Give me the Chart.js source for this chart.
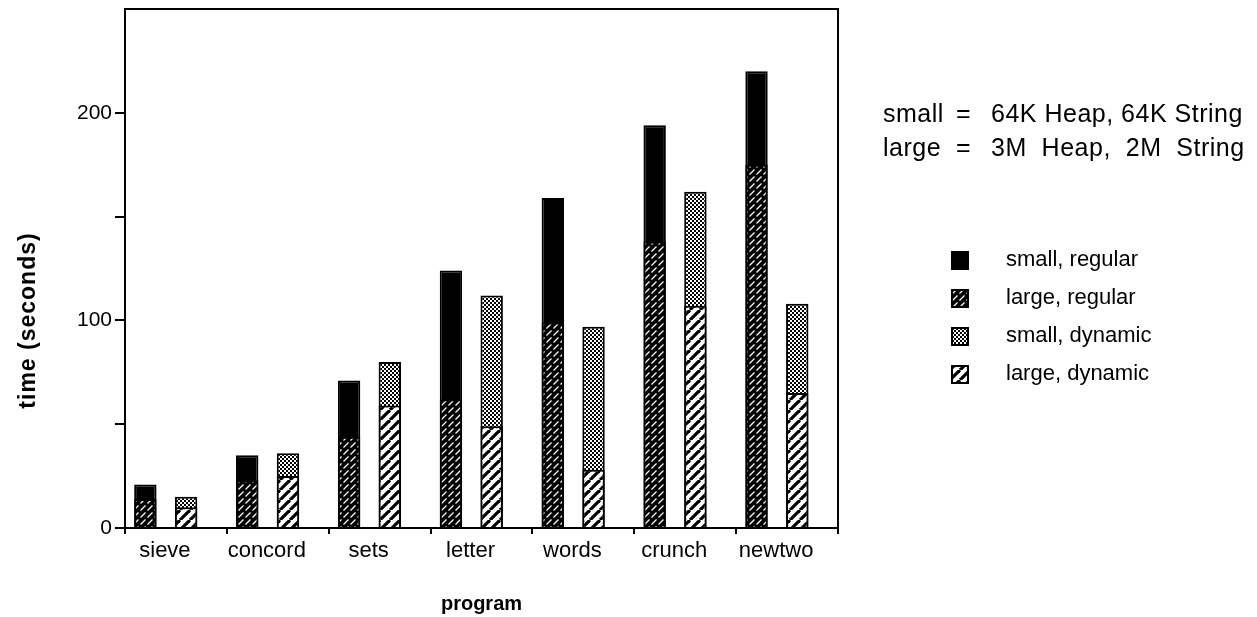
<!DOCTYPE html>
<html>
<head>
<meta charset="utf-8">
<script src="https://cdn.jsdelivr.net/npm/chart.js@4.4.1/dist/chart.umd.min.js"></script>
<style>
  html, body { margin: 0; padding: 0; background: #fff; }
</style>
</head>
<body>
<canvas id="chart" width="1257" height="617"></canvas>
<script>
// values (seconds)
const programs = ['sieve', 'concord', 'sets', 'letter', 'words', 'crunch', 'newtwo'];
const small_regular = [21, 35, 71, 124, 159, 194, 220];
const large_regular = [14, 23, 44, 62, 99, 138, 175];
const small_dynamic = [15, 36, 80, 112, 97, 162, 108];
const large_dynamic = [10, 25, 59, 49, 28, 107, 65];
const y_labels = [0, 100, 200];
const note_small = ['small', '=', '64K Heap, 64K String'];
const note_large = ['large', '=', '3M  Heap,  2M  String'];

const FONT = "'Liberation Sans', Arial, Helvetica, sans-serif";
Chart.defaults.font.family = FONT;
Chart.defaults.color = '#000';

const canvas = document.getElementById('chart');
const ctx = canvas.getContext('2d');

// small repeating tiles for the bar fills
function tile(size, paint) {
  const t = document.createElement('canvas');
  t.width = size;
  t.height = size;
  paint(t.getContext('2d'), size);
  return ctx.createPattern(t, 'repeat');
}

const dark_hatch = tile(7, (g, s) => {
  g.fillStyle = '#000';
  g.fillRect(0, 0, s, s);
  g.strokeStyle = '#fff';
  g.lineWidth = 1.2;
  g.beginPath();
  g.moveTo(0.5, 6.5);
  g.lineTo(5.5, 1.5);
  g.stroke();
});

const light_hatch = tile(10, (g, s) => {
  g.fillStyle = '#fff';
  g.fillRect(0, 0, s, s);
  g.strokeStyle = '#000';
  g.lineWidth = 3.2;
  for (const x0 of [-s, 0, s]) {
    g.beginPath();
    g.moveTo(x0, s);
    g.lineTo(x0 + s, 0);
    g.stroke();
  }
});

const stipple = tile(4, (g, s) => {
  g.fillStyle = '#fff';
  g.fillRect(0, 0, s, s);
  g.fillStyle = '#000';
  g.fillRect(0, 0, 2, 2);
  g.fillRect(2, 2, 2, 2);
});

const bar_style = { borderColor: '#000', borderWidth: 2, categoryPercentage: 0.8, barPercentage: 1.1 };

// frame round the plot, axis title, notes and legend
const extras = {
  id: 'extras',
  afterDatasetsDraw(chart) {
    const { ctx, chartArea: a } = chart;
    ctx.save();
    ctx.strokeStyle = '#000';
    ctx.lineWidth = 2;
    ctx.strokeRect(a.left, a.top, a.right - a.left, a.bottom - a.top);
    ctx.restore();
  },
  afterDraw(chart) {
    const { ctx, chartArea: a } = chart;
    ctx.save();
    ctx.fillStyle = '#000';

    // y title
    ctx.font = 'bold 23px ' + FONT;
    ctx.letterSpacing = '1px';
    ctx.textAlign = 'center';
    ctx.textBaseline = 'middle';
    ctx.translate(29, (a.top + a.bottom) / 2 + 52);
    ctx.rotate(-Math.PI / 2);
    ctx.fillText('time (seconds)', 0, 0);
    ctx.setTransform(1, 0, 0, 1, 0, 0);

    // notes
    ctx.font = '25px ' + FONT;
    ctx.letterSpacing = '0.5px';
    ctx.textAlign = 'left';
    ctx.textBaseline = 'alphabetic';
    const cols = [883, 956, 991];
    [[note_small, 122], [note_large, 156]].forEach(([parts, y]) => {
      parts.forEach((p, i) => ctx.fillText(p, cols[i], y));
    });

    // legend
    ctx.font = '22px ' + FONT;
    ctx.letterSpacing = '0px';
    ctx.textBaseline = 'middle';
    const items = chart.data.datasets.filter(d => d.label);
    items.forEach((d, i) => {
      const top = 251 + i * 38;
      ctx.fillStyle = d.backgroundColor;
      ctx.fillRect(951, top, 18, 19);
      ctx.strokeStyle = '#000';
      ctx.lineWidth = 2;
      ctx.strokeRect(952, top + 1, 16, 17);
      ctx.fillStyle = '#000';
      ctx.fillText(d.label, 1006, top + 9);
    });
    ctx.restore();
  }
};

new Chart(canvas, {
  type: 'bar',
  data: {
    labels: programs,
    datasets: [
      { label: 'small, regular', data: small_regular, backgroundColor: '#000', stack: 'regular', order: 1, ...bar_style },
      { label: 'large, regular', data: large_regular, backgroundColor: dark_hatch, stack: 'regular', order: 0, ...bar_style },
      { label: '', data: [], stack: 'gap1', order: 0, ...bar_style },
      { label: 'small, dynamic', data: small_dynamic, backgroundColor: stipple, stack: 'dynamic', order: 1, ...bar_style },
      { label: 'large, dynamic', data: large_dynamic, backgroundColor: light_hatch, stack: 'dynamic', order: 0, ...bar_style },
      { label: '', data: [], stack: 'gap2', order: 0, ...bar_style }
    ]
  },
  options: {
    responsive: false,
    animation: false,
    devicePixelRatio: 1,
    layout: { padding: { top: 9, right: 419, left: 0, bottom: 0 } },
    plugins: {
      legend: { display: false },
      tooltip: { enabled: false }
    },
    scales: {
      x: {
        stacked: true,
        offset: true,
        afterFit(scale) { scale.height = 89; },
        grid: {
          offset: true,
          drawOnChartArea: false,
          tickLength: 6,
          color: '#000',
          lineWidth: 2
        },
        border: { color: '#000', width: 2 },
        ticks: { font: { size: 22 }, padding: 4, labelOffset: -11, maxRotation: 0 },
        title: {
          display: true,
          text: 'program',
          font: { size: 20, weight: 'bold' },
          padding: { top: 0, bottom: 1 }
        }
      },
      y: {
        stacked: false,
        min: 0,
        max: 250,
        afterFit(scale) { scale.width = 125; scale.paddingTop = 0; },
        grid: {
          drawOnChartArea: false,
          tickLength: 10,
          lineWidth: 2,
          color: c => (c.tick && c.tick.value === 250) ? 'rgba(0,0,0,0)' : '#000'
        },
        border: { color: '#000', width: 2 },
        ticks: {
          stepSize: 50,
          padding: 3,
          font: { size: 21 },
          callback: v => y_labels.includes(v) ? String(v) : ''
        }
      }
    }
  },
  plugins: [extras]
});
</script>
</body>
</html>
